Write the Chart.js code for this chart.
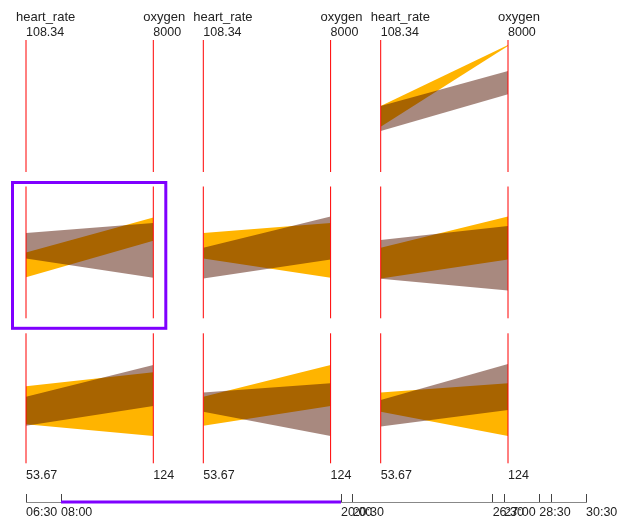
<!DOCTYPE html>
<html><head><meta charset="utf-8">
<script src="https://cdn.jsdelivr.net/npm/chart.js@4"></script>
<style>
html,body{margin:0;padding:0;background:#fff;}
#wrap{position:relative;width:619px;height:520px;overflow:hidden;background:#fff;}
#wrap canvas{position:absolute;left:0;top:0;}
</style></head><body><div id="wrap"></div>
<script>
// ---- data ----
const dimensionNames = ['heart_rate', 'oxygen'];
const dimensionMin = [53.67, 124];
const dimensionMax = [108.34, 8000];
const dimensionMinLabels = ['53.67', '124'];
const dimensionMaxLabels = ['108.34', '8000'];

// value ranges for each time window
const heartRateLow  = [72.4, 70.7, 78.5, 70.2, 70.1, 69.5, 75.4, 69.1];
const heartRateHigh = [81.0, 81.0, 89.1, 82.9, 86.1, 81.7, 83.4, 80.3];
const oxygenLow     = [7646, 4763, 2550, 3645, 1778, 3597, 1778, 3353];
const oxygenHigh    = [7701, 6149, 5826, 6212, 5637, 6078, 4968, 6141];

// which ranges each small-multiple panel shows (previous = yellow, current = brown)
const panelPrevious = [null, null, 0, 1, 2, 3, 4, 5, 6];
const panelCurrent  = [null, null, 1, 2, 3, 4, 5, 6, 7];
const selectedPanel = 3;

// timeline (hours)
const timelineTicks = [6.5, 8, 20, 20.5, 26.5, 27, 28.5, 29, 30.5];
const timelineTickLabels = ['06:30', '08:00', '20:00', '20:30', '26:30', '27:00', '28:30', '', '30:30'];
const timelineRange = [6.5, 30.5];
const timelineSelection = [8, 20];

// ---- layout / style ----
const W = 619, H = 520;
const colLeft = [26, 203.3, 380.7];
const axisGap = 127.3;
const rowTop = [40, 186.5, 333.3];
const rowBottom = [172, 318.3, 463.3];
const FONT = '"Liberation Sans", Arial, sans-serif';
const YELLOW = 'rgb(255,180,0)';
const BROWN = 'rgba(81,19,0,0.5)';
const PURPLE = '#7F00FF';
const wrap = document.getElementById('wrap');

function makeCanvas() {
  const c = document.createElement('canvas');
  c.width = W; c.height = H;
  c.style.width = W + 'px'; c.style.height = H + 'px';
  wrap.appendChild(c);
  return c;
}
function norm(v, d) { return (v - dimensionMin[d]) / (dimensionMax[d] - dimensionMin[d]); }
function band(i, color) {
  const common = { borderColor: 'rgba(0,0,0,0)', borderWidth: 0, pointRadius: 0, tension: 0 };
  return [
    Object.assign({ data: [{ x: 0, y: norm(heartRateHigh[i], 0) }, { x: 1, y: norm(oxygenHigh[i], 1) }], fill: '+1', backgroundColor: color }, common),
    Object.assign({ data: [{ x: 0, y: norm(heartRateLow[i], 0) }, { x: 1, y: norm(oxygenLow[i], 1) }], fill: false }, common)
  ];
}

const panelPlugin = {
  id: 'panelAxes',
  afterDatasetsDraw(chart, args, opts) {
    const ctx = chart.ctx, xs = chart.scales.x, ys = chart.scales.y, a = chart.chartArea;
    ctx.save();
    ctx.strokeStyle = 'rgb(255,0,0)';
    ctx.lineWidth = 1;
    const yTop = ys.getPixelForValue(1), yBot = ys.getPixelForValue(0);
    [0, 1].forEach(v => {
      const x = xs.getPixelForValue(v);
      ctx.beginPath(); ctx.moveTo(x, yTop); ctx.lineTo(x, yBot); ctx.stroke();
    });
    ctx.fillStyle = '#222';
    ctx.textAlign = 'left';
    ctx.textBaseline = 'alphabetic';
    if (opts.row === 0) {
      [0, 1].forEach(d => {
        const x = xs.getPixelForValue(d);
        ctx.font = '13px ' + FONT;
        ctx.fillText(dimensionNames[d], x - 10, yTop - 19);
        ctx.font = '12.5px ' + FONT;
        ctx.fillText(dimensionMaxLabels[d], x, yTop - 4);
      });
    }
    if (opts.row === 2) {
      [0, 1].forEach(d => {
        const x = xs.getPixelForValue(d);
        ctx.font = '12.5px ' + FONT;
        ctx.fillText(dimensionMinLabels[d], x, yBot + 16);
      });
    }
    if (opts.selected) {
      ctx.strokeStyle = PURPLE;
      ctx.lineWidth = 3;
      ctx.strokeRect(a.left - 13.5, a.top - 4, (a.right - a.left) + 26, (a.bottom - a.top) + 14);
    }
    ctx.restore();
  }
};

for (let p = 0; p < 9; p++) {
  const row = Math.floor(p / 3), col = p % 3;
  const left = colLeft[col], right = colLeft[col] + axisGap;
  const datasets = [];
  if (panelCurrent[p] !== null) datasets.push(...band(panelCurrent[p], BROWN));
  if (panelPrevious[p] !== null) datasets.push(...band(panelPrevious[p], YELLOW));
  new Chart(makeCanvas(), {
    type: 'line',
    data: { datasets },
    options: {
      responsive: false, animation: false, events: [], devicePixelRatio: 1,
      layout: { padding: { left: left, right: W - right, top: rowTop[row], bottom: H - rowBottom[row] } },
      plugins: { legend: { display: false }, tooltip: { enabled: false },
        panelAxes: { row: row, selected: p === selectedPanel } },
      scales: {
        x: { type: 'linear', min: 0, max: 1, display: false },
        y: { type: 'linear', min: 0, max: 1, display: false }
      }
    },
    plugins: [panelPlugin]
  });
}

// timeline
new Chart(makeCanvas(), {
  type: 'line',
  data: { datasets: [{
    data: [{ x: timelineSelection[0], y: 0 }, { x: timelineSelection[1], y: 0 }],
    borderColor: PURPLE, borderWidth: 3, pointRadius: 0, clip: false
  }] },
  options: {
    responsive: false, animation: false, events: [], devicePixelRatio: 1,
    layout: { padding: { left: 26, right: W - 586, top: 494, bottom: 0 } },
    plugins: { legend: { display: false }, tooltip: { enabled: false } },
    scales: {
      x: {
        type: 'linear', position: 'bottom', min: timelineRange[0], max: timelineRange[1],
        afterBuildTicks: s => { s.ticks = timelineTicks.map(v => ({ value: v })); },
        afterFit: s => { s.height = 18; s.paddingLeft = 0; s.paddingRight = 0; },
        grid: { display: true, drawOnChartArea: true, drawTicks: false, color: '#444', lineWidth: 1 },
        border: { display: true, color: '#888', width: 1 },
        ticks: { autoSkip: false, maxRotation: 0, minRotation: 0, align: 'start', padding: 3, color: '#222',
          font: { family: FONT, size: 12.5 },
          callback: (v, i) => timelineTickLabels[i] }
      },
      y: { type: 'linear', min: 0, max: 1, display: false }
    }
  }
});
</script>
</body></html>
